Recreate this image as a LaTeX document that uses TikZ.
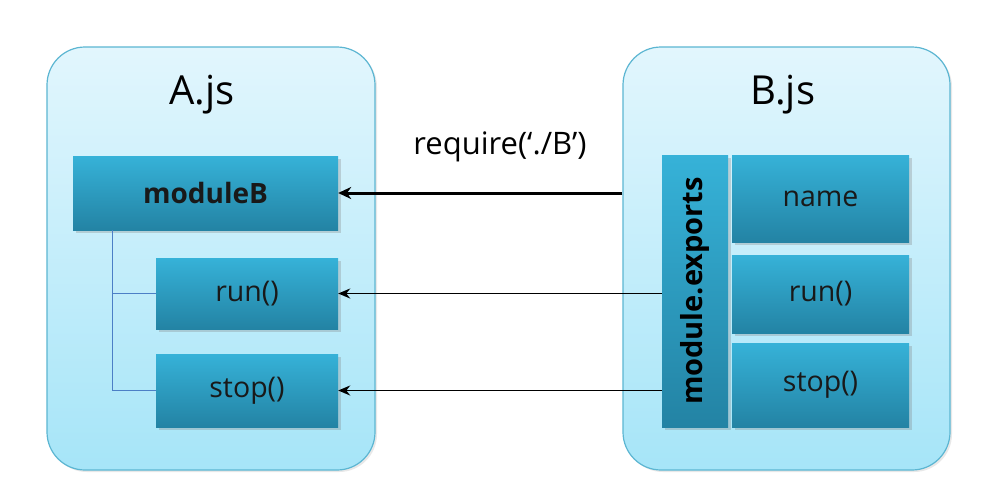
\documentclass[tikz,border=0pt]{standalone}
\usepackage{fontspec}
\setmainfont{Open Sans}
\usetikzlibrary{shadows,arrows.meta,calc}
\definecolor{contTop}{HTML}{E2F6FD}
\definecolor{contBot}{HTML}{A6E5F8}
\definecolor{contLine}{HTML}{5CB6D2}
\definecolor{boxTop}{HTML}{36B2D8}
\definecolor{boxBot}{HTML}{2383A4}
\definecolor{treeLine}{HTML}{4C7FC6}
\begin{document}
\begin{tikzpicture}[x=1pt,y=-1pt,
  container/.style={draw=contLine, line width=1.2pt, rounded corners=38pt,
    top color=contTop, bottom color=contBot, minimum width=328pt, minimum height=423pt,
    drop shadow={opacity=0.18, shadow xshift=2pt, shadow yshift=-2pt}},
  member/.style={top color=boxTop, bottom color=boxBot, draw=none,
    drop shadow={opacity=0.3, shadow xshift=2.5pt, shadow yshift=-2.5pt},
    inner sep=0pt, font=\fontsize{28.5}{32}\selectfont, text=black!90},
  title/.style={font=\fontsize{40}{46}\selectfont, text=black},
  link/.style={draw=black, line width=1.9pt, -{Stealth[length=12pt,width=10pt]}},
  biglink/.style={draw=black, line width=3pt, -{Stealth[length=13pt,width=12pt]}}]
\useasboundingbox[fill=white] (0,0) rectangle (984,496);
% containers
\node[container] (Abox) at (211,258.5) {};
\node[container, minimum width=327pt] (Bbox) at (786.5,258.5) {};
\node[title] (Atitle) at (202,95) {A.js};
\node[title] (Btitle) at (783,95) {B.js};
% A.js members
\node[member, minimum width=265pt, minimum height=74pt, font=\bfseries\fontsize{28}{32}\selectfont] (moduleB) at (205.5,193) {moduleB};
\node[member, minimum width=182pt, minimum height=71pt] (runA) at (247,293.5) {run()};
\node[member, minimum width=182pt, minimum height=73pt] (stopA) at (247,390.5) {stop()};
% B.js members
\node[member, minimum width=66pt, minimum height=272pt] (exports) at (695,291) {};
\node[rotate=90, font=\bfseries\fontsize{29}{32}\selectfont, text=black] (exportsLabel) at (exports.center) {module.exports};
\node[member, minimum width=177pt, minimum height=87pt] (nameB) at (820.5,198.5) {name};
\node[member, minimum width=177pt, minimum height=78pt] (runB) at (820.5,294) {run()};
\node[member, minimum width=177pt, minimum height=84pt] (stopB) at (820.5,385) {stop()};
% tree lines
\coordinate (treeTop) at ($(moduleB.south west)+(40,0)$);
\draw[treeLine, line width=1.2pt] (treeTop) |- (stopA.west);
\draw[treeLine, line width=1.2pt] (treeTop |- runA.west) -- (runA.west);
% arrows
\draw[biglink] (moduleB -| Bbox.west) -- (moduleB.east);
\draw[link] (runA -| exports.west) -- (runA.east);
\draw[link] (stopA -| exports.west) -- (stopA.east);
\node[font=\fontsize{31}{36}\selectfont, text=black] (req) at (500,147) {require(‘./B’)};
\end{tikzpicture}
\end{document}
